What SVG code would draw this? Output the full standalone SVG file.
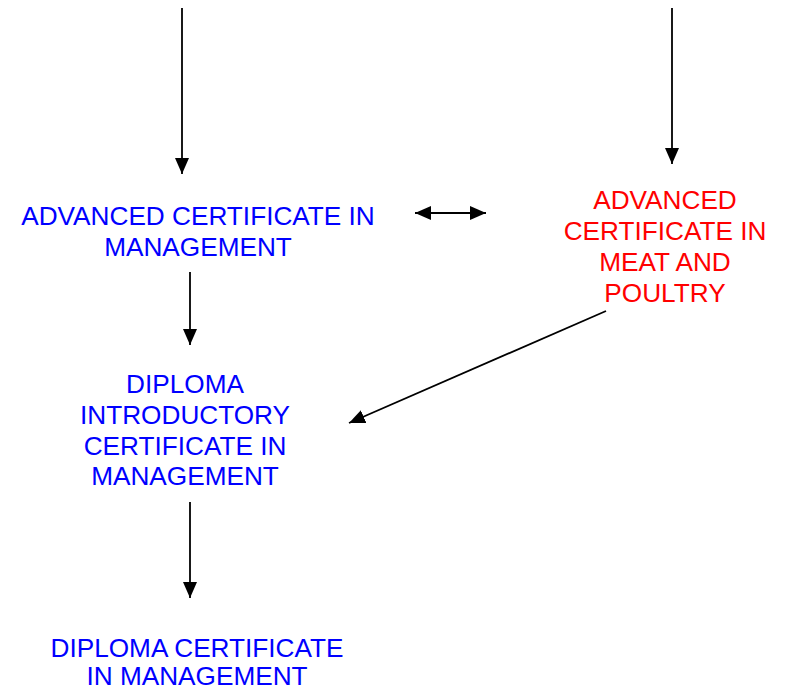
<svg xmlns="http://www.w3.org/2000/svg" width="787" height="691" viewBox="0 0 787 691">
<defs>
<style>
.t{font-family:"Liberation Sans",Arial,sans-serif;font-size:26.2px;text-anchor:middle}
.b{fill:#0000ff}
.r{fill:#ff0000}
.c{stroke:#000;stroke-width:1.8;fill:none}
</style>
<marker id="ah" viewBox="0 0 16 14" refX="16" refY="7" markerWidth="16" markerHeight="14" markerUnits="userSpaceOnUse" orient="auto-start-reverse">
<polygon points="0,0 16,7 0,14" fill="#000"/>
</marker>
</defs>
<rect width="787" height="691" fill="#fff"/>
<g id="connectors">
<line class="c" x1="182" y1="8" x2="182" y2="174" marker-end="url(#ah)"/>
<line class="c" x1="672" y1="8" x2="672" y2="164" marker-end="url(#ah)"/>
<line class="c" x1="415" y1="213" x2="486" y2="213" marker-start="url(#ah)" marker-end="url(#ah)"/>
<line class="c" x1="190" y1="272" x2="190" y2="345" marker-end="url(#ah)"/>
<line class="c" x1="606" y1="311" x2="349" y2="423" marker-end="url(#ah)"/>
<line class="c" x1="190" y1="502" x2="190" y2="598" marker-end="url(#ah)"/>
</g>
<g id="adv-mgmt">
<text class="t b" x="198" y="225">ADVANCED CERTIFICATE IN</text>
<text class="t b" x="198" y="256">MANAGEMENT</text>
</g>
<g id="adv-meat">
<text class="t r" x="665" y="209">ADVANCED</text>
<text class="t r" x="665" y="240">CERTIFICATE IN</text>
<text class="t r" x="665" y="271">MEAT AND</text>
<text class="t r" x="665" y="302">POULTRY</text>
</g>
<g id="dip-intro">
<text class="t b" x="185" y="393">DIPLOMA</text>
<text class="t b" x="185" y="424">INTRODUCTORY</text>
<text class="t b" x="185" y="455">CERTIFICATE IN</text>
<text class="t b" x="185" y="485">MANAGEMENT</text>
</g>
<g id="dip-cert">
<text class="t b" x="197" y="657">DIPLOMA CERTIFICATE</text>
<text class="t b" x="197" y="685">IN MANAGEMENT</text>
</g>
</svg>
